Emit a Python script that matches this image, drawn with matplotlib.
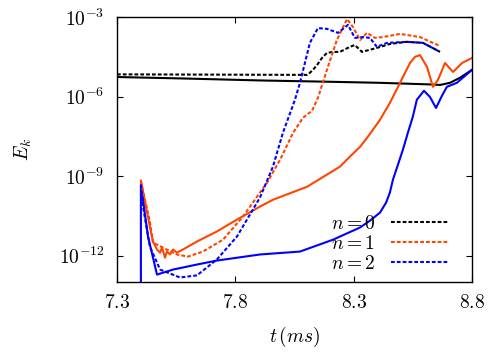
import numpy as np
import matplotlib
matplotlib.use("Agg")
import matplotlib.pyplot as plt

plt.rcParams['mathtext.fontset'] = 'cm'
plt.rcParams['font.family'] = 'serif'
plt.rcParams['font.serif'] = ['cmr10', 'DejaVu Serif']
plt.rcParams['axes.unicode_minus'] = False

# values (t in ms, log10 of E_k)
t_n0_solid = [7.30, 7.60, 7.904, 8.20, 8.411, 8.622, 8.665, 8.707, 8.749, 8.80]
lg_n0_solid = [-5.25, -5.31, -5.38, -5.43, -5.47, -5.53, -5.55, -5.47, -5.28, -4.98]

t_n0_dash = [7.30, 8.103, 8.115, 8.132, 8.149, 8.166, 8.187, 8.213, 8.242, 8.284, 8.305,
             8.335, 8.398, 8.453, 8.525, 8.593, 8.665]
lg_n0_dash = [-5.15, -5.17, -5.09, -4.94, -4.75, -4.53, -4.34, -4.30, -4.30, -4.11, -4.04,
              -4.30, -4.15, -4.00, -3.92, -3.96, -4.30]

t_n1_solid = [7.401, 7.439, 7.452, 7.469, 7.482, 7.490, 7.503, 7.511, 7.524, 7.537, 7.553,
              7.579, 7.638, 7.722, 7.807, 7.904, 7.959, 8.103, 8.242, 8.284, 8.327, 8.369,
              8.411, 8.453, 8.496, 8.517, 8.538, 8.559, 8.580, 8.610, 8.635, 8.656, 8.686,
              8.720, 8.758, 8.80]
lg_n1_solid = [-9.17, -10.91, -11.47, -11.77, -11.89, -11.70, -12.08, -11.85, -11.96, -11.77,
               -11.89, -11.77, -11.47, -11.09, -10.64, -10.15, -9.89, -9.40, -8.64, -8.26,
               -7.89, -7.40, -6.87, -6.23, -5.47, -5.09, -4.72, -4.49, -4.42, -4.87, -5.62,
               -5.36, -4.72, -5.06, -4.72, -4.53]

t_n1_dash = [7.401, 7.439, 7.452, 7.494, 7.553, 7.600, 7.663, 7.748, 7.832, 7.904, 7.934,
             7.989, 8.044, 8.086, 8.124, 8.149, 8.187, 8.229, 8.272, 8.297, 8.327, 8.356,
             8.390, 8.424, 8.496, 8.580, 8.665]
lg_n1_dash = [-9.21, -10.72, -11.51, -11.70, -11.96, -12.04, -11.85, -11.40, -10.53, -9.62,
              -9.25, -8.38, -7.36, -6.79, -6.53, -6.04, -4.98, -3.85, -3.06, -3.36, -3.85,
              -3.58, -3.77, -3.74, -3.62, -3.74, -4.08]

t_n2_solid = [7.401, 7.401, 7.431, 7.469, 7.537, 7.638, 7.722, 7.904, 8.073, 8.213, 8.327,
              8.369, 8.411, 8.437, 8.453, 8.466, 8.487, 8.508, 8.529, 8.550, 8.567, 8.597,
              8.622, 8.648, 8.673, 8.694, 8.736, 8.80]
lg_n2_solid = [-15.0, -9.32, -11.28, -12.72, -12.53, -12.34, -12.19, -11.96, -11.85, -11.40,
               -10.94, -10.68, -10.38, -10.00, -9.62, -9.13, -8.57, -8.00, -7.36, -6.75,
               -6.11, -5.77, -6.00, -6.42, -5.96, -5.62, -5.47, -4.98]

t_n2_dash = [7.401, 7.410, 7.439, 7.482, 7.566, 7.638, 7.722, 7.807, 7.904, 7.959, 8.001,
             8.052, 8.073, 8.094, 8.115, 8.149, 8.187, 8.234, 8.276, 8.305, 8.339, 8.369,
             8.398, 8.441, 8.525, 8.593, 8.665]
lg_n2_dash = [-9.32, -10.15, -11.66, -12.53, -12.83, -12.75, -12.15, -11.28, -9.81, -8.64,
              -7.36, -6.11, -5.47, -4.72, -3.96, -3.40, -3.43, -3.58, -3.28, -3.77, -3.74,
              -3.77, -4.11, -3.96, -3.92, -3.96, -4.30]

labels = [r'$n=0$', r'$n=1$', r'$n=2$']
colors = ['black', '#ff4500', '#0000ff']
xticks = [7.3, 7.8, 8.3, 8.8]
yticks = [1e-12, 1e-9, 1e-6, 1e-3]
ytick_labels = [r'$10^{-12}$', r'$10^{-9}$', r'$10^{-6}$', r'$10^{-3}$']

fig = plt.figure(figsize=(4.93, 3.52), dpi=100)
ax = fig.add_axes([0.2373, 0.1989, 0.7201, 0.7514])

solids = [(t_n0_solid, lg_n0_solid), (t_n1_solid, lg_n1_solid), (t_n2_solid, lg_n2_solid)]
dashes = [(t_n0_dash, lg_n0_dash), (t_n1_dash, lg_n1_dash), (t_n2_dash, lg_n2_dash)]

for (t, lg), c in zip(solids, colors):
    ax.plot(t, 10.0 ** np.array(lg), color=c, lw=1.5)
for (t, lg), c, lab in zip(dashes, colors, labels):
    ax.plot(t, 10.0 ** np.array(lg), color=c, lw=1.5, dashes=(1.8, 1.0), label=lab)

ax.set_yscale('log')
ax.set_xlim(7.3, 8.8)
ax.set_ylim(1e-13, 1e-3)
ax.set_xticks(xticks)
ax.set_xticklabels([r'$%.1f$' % v for v in xticks])
ax.set_yticks(yticks)
ax.set_yticklabels(ytick_labels)
ax.minorticks_off()
ax.tick_params(direction='in', length=4.5, width=0.8, top=True, right=True,
               labelsize=14, pad=9)
for sp in ax.spines.values():
    sp.set_linewidth(1.0)

ax.set_xlabel(r'$t\,(ms)$', fontsize=14, labelpad=9)
ax.set_ylabel(r'$E_k$', fontsize=14, labelpad=18)

ax.legend(loc='lower right', frameon=False, fontsize=14, markerfirst=False,
          handlelength=3.0, labelspacing=0.12, handletextpad=0.8,
          borderaxespad=0.05, bbox_to_anchor=(0.96, 0.0))

fig.savefig('out.png', dpi=100)
